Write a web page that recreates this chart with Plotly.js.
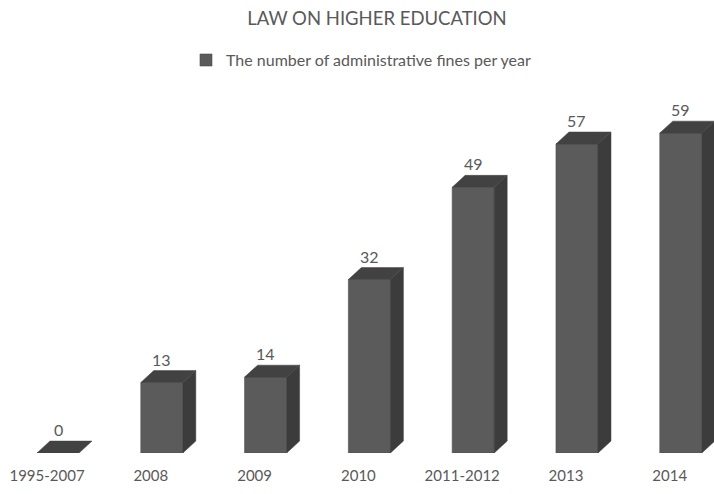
<!DOCTYPE html>
<html>
<head>
<meta charset="utf-8">
<script src="https://cdn.plot.ly/plotly-3.0.1.min.js"></script>
<style>html,body{margin:0;padding:0;background:#fff;}#chart{width:714px;height:494px;}</style>
</head>
<body>
<div id="chart"></div>
<script>
var categories = ["1995-2007", "2008", "2009", "2010", "2011-2012", "2013", "2014"];
var fines = [0, 13, 14, 32, 49, 57, 59];
var seriesName = "The number of administrative fines per year";
var chartTitle = "LAW ON HIGHER EDUCATION";

// 3D look parameters (styling)
var idx = categories.map(function(c, i){ return i; });
var frontOffset = 0.106;   // front face shifted right of tick
var barW = 0.405;          // front face width (category units)
var depthX = 0.125;        // depth offset in category units
var depthY = 2.2;          // depth offset in value units

var frontX = idx.map(function(i){ return i + frontOffset; });

var sideX = [], sideY = [], topX = [], topY = [];
fines.forEach(function(v, i){
  var x0 = frontX[i] - barW/2, x1 = frontX[i] + barW/2;
  if (v > 0) {
    sideX.push(x1, x1 + depthX, x1 + depthX, x1, x1, null);
    sideY.push(0, depthY, v + depthY, v, 0, null);
  }
  topX.push(x0, x1, x1 + depthX, x0 + depthX, x0, null);
  topY.push(v, v, v + depthY, v + depthY, v, null);
});

var traces = [
  {
    type: "bar", x: frontX, y: fines, width: barW, name: seriesName,
    marker: {color: "#5b5b5b", line: {color: "#4e4e4e", width: 0.6}},
    hoverinfo: "none", showlegend: true
  },
  {
    type: "scatter", mode: "lines", x: sideX, y: sideY, fill: "toself",
    fillcolor: "#3c3c3c", line: {color: "#3c3c3c", width: 0.5},
    hoverinfo: "skip", showlegend: false, connectgaps: false
  },
  {
    type: "scatter", mode: "lines", x: topX, y: topY, fill: "toself",
    fillcolor: "#424242", line: {color: "#424242", width: 0.5},
    hoverinfo: "skip", showlegend: false, connectgaps: false
  }
];

var annotations = fines.map(function(v, i){
  return {
    x: frontX[i], y: v + depthY, xref: "x", yref: "y",
    text: String(v), showarrow: false, yanchor: "bottom", yshift: 0,
    font: {family: "Lato, 'Open Sans', sans-serif", size: 16, color: "#595959"}
  };
});

var layout = {
  width: 714, height: 494,
  margin: {l: 0, r: 0, t: 100, b: 41},
  paper_bgcolor: "#ffffff", plot_bgcolor: "#ffffff",
  font: {family: "Lato, 'Open Sans', sans-serif", color: "#595959", size: 13},
  title: {text: chartTitle, x: 0.528, xanchor: "center", y: 0.963, yanchor: "middle", yref: "container",
          font: {family: "Lato, 'Open Sans', sans-serif", size: 18.5, color: "#595959"}},
  showlegend: true,
  legend: {orientation: "h", x: 0.2605, xanchor: "left", y: 1.113, yanchor: "middle",
           font: {size: 16, color: "#595959"}, itemwidth: 30},
  xaxis: {range: [-0.453, 6.426], tickvals: idx, ticktext: categories, showgrid: false,
          zeroline: false, showline: false, ticks: "", ticklabelstandoff: 12,
          tickfont: {size: 15, color: "#595959"}, fixedrange: true},
  yaxis: {range: [0, 65.1], showgrid: false, zeroline: false, showline: false,
          showticklabels: false, ticks: "", fixedrange: true},
  annotations: annotations,
  bargap: 0
};

Plotly.newPlot("chart", traces, layout, {displayModeBar: false, staticPlot: true});
</script>
</body>
</html>
